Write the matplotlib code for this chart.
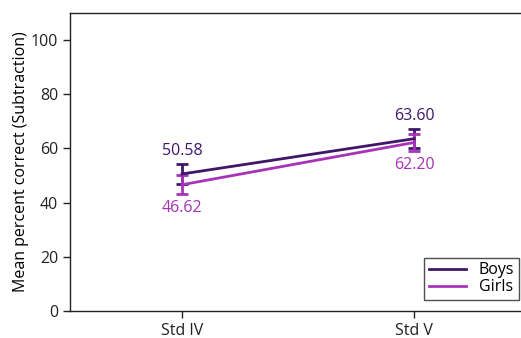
import matplotlib.pyplot as plt

plt.rcParams['font.family'] = ['Open Sans', 'DejaVu Sans']

# mean percent correct and error bar half-widths per standard
standards = ['Std IV', 'Std V']
boys = [50.58, 63.60]
boys_err = [3.7, 3.4]
girls = [46.62, 62.20]
girls_err = [3.6, 3.0]

boys_col = '#3f1769'
girls_col = '#a733b6'

fig = plt.figure(figsize=(5.21, 3.38), dpi=100)
ax = fig.add_axes([70 / 521, 27 / 338, 455 / 521, 298 / 338])

x = list(range(len(standards)))
eb_boys = ax.errorbar(x, boys, yerr=boys_err, color=boys_col, lw=2, capsize=4,
                      capthick=2, elinewidth=2)
eb_girls = ax.errorbar(x, girls, yerr=girls_err, color=girls_col, lw=2, capsize=4,
                       capthick=2, elinewidth=2)

# value labels: boys above, girls below
for xi, b, g in zip(x, boys, girls):
    ax.text(xi, b + 5.5, '%.2f' % b, color=boys_col, fontsize=11.5,
            ha='center', va='bottom')
    ax.text(xi, g - 5.5, '%.2f' % g, color=girls_col, fontsize=11.5,
            ha='center', va='top')

ax.set_xlim(-0.483, 1.478)
ax.set_ylim(0, 110)
ax.set_yticks([0, 20, 40, 60, 80, 100])
ax.set_xticks(x)
ax.set_xticklabels(standards)
ax.tick_params(labelsize=11.5, length=5, width=1, colors='#222222')
ax.set_ylabel('Mean percent correct (Subtraction)', fontsize=11.5, labelpad=1)
ax.spines['right'].set_visible(False)
for s in ax.spines.values():
    s.set_linewidth(1)
    s.set_color('#222222')

leg = ax.legend([eb_boys[0], eb_girls[0]], ['Boys', 'Girls'],
                loc='lower right', bbox_to_anchor=(519 / 521, 38 / 338),
                bbox_transform=fig.transFigure, fontsize=11.5, frameon=True,
                fancybox=False, edgecolor='#222222', handlelength=2.3,
                borderaxespad=0, labelspacing=0.05, borderpad=0.3)
leg.get_frame().set_linewidth(1)

fig.savefig('out.png', dpi=100)
